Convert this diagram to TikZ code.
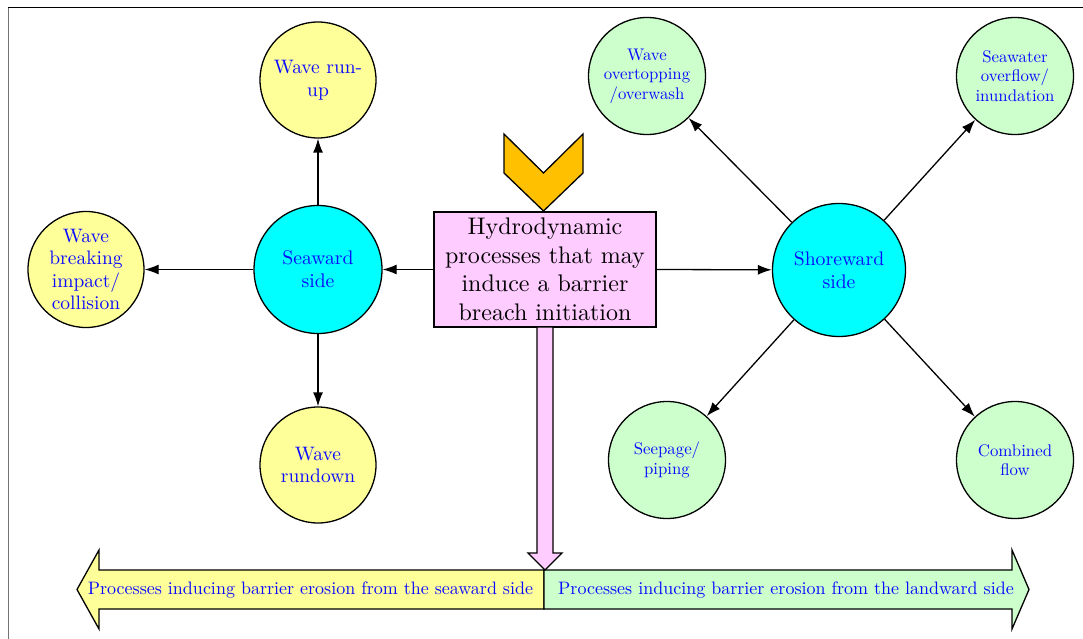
\documentclass[tikz,border=0pt]{standalone}
\usepackage{fontspec}
\setmainfont{lmroman10}[Extension=.otf, UprightFont=*-regular, BoldFont=*-bold, ItalicFont=*-italic, BoldItalicFont=*-bolditalic]
\usetikzlibrary{arrows.meta}
\definecolor{cyellow}{RGB}{255,255,153}
\definecolor{ccyan}{RGB}{0,255,255}
\definecolor{cgreen}{RGB}{204,255,204}
\definecolor{cpink}{RGB}{255,204,255}
\definecolor{corange}{RGB}{255,192,0}
\definecolor{ctext}{RGB}{10,10,255}
\begin{document}
\begin{tikzpicture}[x=1pt,y=-1pt,
  bub/.style={circle, draw=black, line width=1.3pt, inner sep=0pt, align=center, text=ctext},
  ybub/.style={bub, fill=cyellow, minimum size=116pt, font=\fontsize{19.5}{22.5}\selectfont},
  cbub/.style={bub, fill=ccyan, minimum size=130pt, font=\fontsize{19.7}{23}\selectfont},
  gbub/.style={bub, fill=cgreen, minimum size=117pt, font=\fontsize{16.8}{19.5}\selectfont},
  arr/.style={-{Latex[length=14pt,width=10pt]}, line width=1.3pt},
  outl/.style={draw=black, line width=1.3pt, line join=miter},
  bartext/.style={text=ctext, inner sep=0pt, font=\fontsize{18}{21}\selectfont}
]
\useasboundingbox (0,0) rectangle (1083,639);
\fill[white] (0,0) rectangle (1083,639);
% frame
\draw[black!55, line width=1pt] (8,639) -- (8,8);
\draw[black, line width=1pt] (8,8) -- (1083,8);

% chevron
\draw[outl, fill=corange] (504,134) -- (543.5,173) -- (583,134) -- (583,173) -- (543.5,211) -- (504,173) -- cycle;

% central box
\node[draw=black, line width=1.3pt, fill=cpink, minimum width=222pt, minimum height=115pt,
      inner sep=0pt, align=center, font=\fontsize{24}{28.5}\selectfont] (box) at (545,269.5)
  {Hydrodynamic\\processes that may\\induce a barrier\\breach initiation};

% bottom double arrow
\draw[outl, fill=cyellow] (544,570) -- (99,570) -- (99,550) -- (77,589.5) -- (99,629) -- (99,609) -- (544,609) -- cycle;
\draw[outl, fill=cgreen] (544,570) -- (1012,570) -- (1012,550) -- (1029,589.5) -- (1012,629) -- (1012,609) -- (544,609) -- cycle;
\node[bartext] (lefttxt) at (310.5,590) {Processes inducing barrier erosion from the seaward side};
\node[bartext] (righttxt) at (786,590) {Processes inducing barrier erosion from the landward side};

% pink downward arrow
\draw[outl, fill=cpink] (537,327) -- (553,327) -- (553,553) -- (562,553) -- (545,570) -- (528,553) -- (537,553) -- cycle;

% circles
\node[ybub] (runup) at (318,80) {Wave run-\\up};
\node[cbub, minimum size=128pt] (seaward) at (318,269.5) {Seaward\\side};
\node[ybub] (breaking) at (86,269.5) {Wave\\breaking\\impact/\\collision};
\node[ybub] (rundown) at (318,465) {Wave\\rundown};

\node[cbub, minimum size=133pt] (shoreward) at (839,270) {Shoreward\\side};
\node[gbub] (overtop) at (647,76) {Wave\\overtopping\\/overwash};
\node[gbub] (overflow) at (1015,76) {Seawater\\overflow/\\inundation};
\node[gbub] (seepage) at (667,460) {Seepage/\\piping};
\node[gbub] (combined) at (1015,460) {Combined\\flow};

% connectors
\draw[arr] (box.west) -- (seaward);
\draw[arr] (box.east) -- (shoreward);
\draw[arr] (seaward) -- (runup);
\draw[arr] (seaward) -- (breaking);
\draw[arr] (seaward) -- (rundown);
\draw[arr] (shoreward) -- (overtop);
\draw[arr] (shoreward) -- (overflow);
\draw[arr] (shoreward) -- (seepage);
\draw[arr] (shoreward) -- (combined);
\end{tikzpicture}
\end{document}
